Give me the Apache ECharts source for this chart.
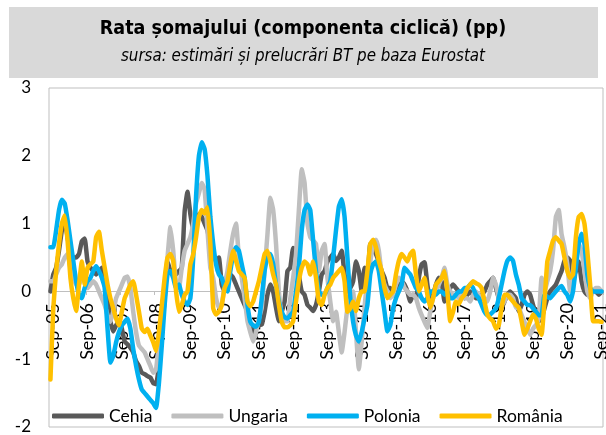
<!DOCTYPE html>
<html>
<head>
<meta charset="utf-8">
<script src="https://cdn.jsdelivr.net/npm/echarts@6/dist/echarts.min.js"></script>
<style>
  html, body { margin: 0; padding: 0; background: #fff; }
  #chart { width: 606px; height: 435px; }
</style>
</head>
<body>
<div id="chart"></div>
<script>
//luni, aug-2005 .. sep-2021
var luni = ['Jan', 'Feb', 'Mar', 'Apr', 'May', 'Jun', 'Jul', 'Aug', 'Sep', 'Oct', 'Nov', 'Dec'];
var categorii = [];
for (var k = 0; k < 194; k++) {
    var m = (7 + k) % 12;
    var an = 2005 + Math.floor((7 + k) / 12);
    categorii.push(luni[m] + '-' + String(an).slice(2));
}

var cehia = [
    0.0, 0.25, 0.35, 0.6, 0.9, 1.05, 0.8, 0.55, 0.5, 0.5, 0.55, 0.74,
    0.78, 0.44, 0.35, 0.3, 0.25, 0.3, 0.35, 0.1, -0.05, -0.44, -0.59, -0.5,
    -0.44, -0.55, -0.74, -0.78, -0.83, -0.9, -1.03, -1.1, -1.2, -1.22, -1.25, -1.27,
    -1.35, -1.37, -1.1, -0.6, -0.1, 0.44, 0.3, 0.25, 0.25, 0.3, 0.35, 1.18,
    1.47, 1.14, 0.9, 1.04, 1.14, 1.1, 1.0, 0.9, 0.7, 0.55, 0.44, 0.5,
    0.1, 0.0, 0.1, 0.25, 0.2, 0.1, 0.0, -0.1, -0.2, -0.3, -0.49, -0.64,
    -0.54, -0.5, -0.49, -0.3, -0.05, 0.1, 0.0, -0.24, -0.44, -0.3, -0.15, 0.3,
    0.35, 0.64, 0.6, 0.25, 0.0, -0.05, -0.2, -0.24, -0.29, -0.2, 0.0, 0.25,
    0.3, 0.44, 0.5, 0.55, 0.45, 0.5, 0.6, 0.25, 0.0, 0.05, 0.15, 0.44,
    0.3, 0.0, 0.35, 0.2, 0.7, 0.65, 0.55, 0.44, 0.3, 0.2, 0.05, 0.05,
    0.0, 0.0, 0.05, 0.15, 0.1, 0.0, -0.15, -0.05, -0.1, 0.2, 0.4, 0.43,
    0.1, -0.15, -0.05, 0.1, 0.2, 0.15, -0.15, -0.05, 0.05, 0.1, 0.05, 0.0,
    -0.05, -0.1, -0.05, 0.0, -0.05, -0.1, -0.1, -0.05, 0.0, 0.1, 0.15, 0.2,
    0.05, -0.1, -0.24, -0.15, -0.05, 0.0, -0.05, -0.1, -0.29, -0.2, -0.05, 0.0,
    -0.05, -0.2, -0.34, -0.44, -0.4, -0.25, -0.1, 0.0, 0.05, 0.1, 0.2, 0.3,
    0.45, 0.5, 0.45, 0.2, 0.3, 0.44, 0.15, 0.0, -0.05, -0.05, 0.0, 0.0,
    -0.05, 0.0
];

var ungaria = [
    0.15, 0.15, 0.25, 0.35, 0.4, 0.5, 0.55, 0.35, 0.2, 0.1, 0.1, 0.2,
    0.15, 0.05, 0.1, 0.15, 0.1, 0.0, -0.1, -0.2, -0.35, -0.45, -0.3, -0.1,
    0.0, 0.1, 0.2, 0.22, 0.05, -0.3, -0.6, -0.8, -0.85, -0.9, -1.0, -1.1,
    -1.2, -1.15, -0.74, -0.3, 0.1, 0.5, 0.95, 0.6, 0.1, 0.05, 0.35, 0.6,
    0.7, 0.8, 1.0, 1.3, 1.45, 1.6, 1.5, 0.9, 0.35, 0.2, -0.1, -0.24,
    -0.2, 0.1, 0.3, 0.6, 0.85, 1.0, 0.5, 0.2, -0.1, -0.44, -0.6, -0.74,
    -0.6, -0.4, -0.24, 0.3, 0.84, 1.38, 1.2, 0.7, 0.0, -0.34, -0.44, -0.44,
    -0.1, 0.2, 0.55, 1.2, 1.8, 1.6, 1.0, 0.8, 0.75, 0.7, 0.3, 0.6,
    0.7, 0.2, -0.15, -0.44, -0.3, -0.6, -0.9, -0.6, -0.25, -0.19, 0.0, -0.6,
    -1.15, -0.74, -0.24, 0.2, 0.44, 0.7, 0.76, 0.6, 0.25, 0.1, 0.0, -0.1,
    -0.05, 0.1, 0.2, 0.15, 0.05, 0.0, -0.05, -0.05, -0.1, -0.24, -0.35, -0.45,
    -0.54, -0.3, -0.1, 0.0, 0.1, 0.2, 0.35, 0.1, 0.0, -0.05, -0.05, -0.1,
    -0.05, -0.1, -0.1, -0.15, -0.05, 0.0, -0.05, -0.1, -0.1, -0.15, 0.0, 0.2,
    0.1, -0.1, -0.2, -0.15, -0.05, -0.05, -0.1, -0.24, -0.24, -0.35, -0.45, -0.55,
    -0.64, -0.55, -0.5, -0.4, 0.2, 0.0, 0.15, 0.3, 0.6, 1.1, 1.2, 0.84,
    0.65, 0.4, 0.0, 0.3, 0.6, 0.7, 0.6, 0.3, 0.0, -0.1, 0.0, 0.05,
    0.05, 0.0
];

var polonia = [
    0.65, 0.65, 0.9, 1.2, 1.35, 1.3, 1.05, 0.75, 0.45, 0.15, -0.05, -0.1,
    0.05, 0.15, 0.2, 0.3, 0.37, 0.3, 0.2, 0.05, -0.55, -1.05, -0.95, -0.75,
    -0.6, -0.5, -0.45, -0.4, -0.55, -0.85, -1.1, -1.3, -1.45, -1.5, -1.55, -1.6,
    -1.65, -1.72, -1.35, -0.8, -0.2, 0.25, 0.3, 0.2, 0.05, 0.1, -0.05, -0.15,
    -0.2, -0.1, 0.5, 1.4, 2.0, 2.2, 2.1, 1.7, 1.1, 0.7, 0.4, 0.25,
    0.2, 0.05, 0.0, 0.3, 0.55, 0.65, 0.6, 0.4, 0.2, -0.2, -0.45, -0.5,
    -0.52, -0.45, -0.1, 0.3, 0.5, 0.55, 0.4, 0.1, -0.15, -0.3, -0.38, -0.4,
    -0.35, -0.3, 0.0, 0.35, 0.9, 1.2, 1.28, 1.2, 0.75, 0.3, 0.0, -0.05,
    -0.05, 0.05, 0.15, 0.5, 0.9, 1.25, 1.36, 1.1, 0.5, -0.1, -0.45, -0.65,
    -0.74, -0.6, -0.4, -0.2, 0.25, 0.4, 0.44, 0.3, 0.0, -0.3, -0.59, -0.5,
    -0.25, -0.1, 0.0, 0.1, 0.35, 0.3, 0.25, 0.15, 0.05, 0.0, -0.1, -0.15,
    -0.1, 0.0, 0.0, -0.05, 0.0, 0.0, -0.05, 0.0, -0.1, -0.1, -0.05, 0.0,
    0.0, 0.05, 0.05, 0.1, 0.05, -0.05, -0.1, -0.2, -0.3, -0.35, -0.34, -0.3,
    -0.25, -0.1, 0.1, 0.3, 0.45, 0.5, 0.45, 0.25, 0.1, -0.1, -0.15, -0.2,
    -0.2, -0.25, -0.3, -0.35, -0.35, -0.05, -0.08, -0.1, -0.05, 0.0, 0.05, 0.08,
    0.0, -0.05, -0.15, 0.0, 0.35, 0.7, 0.85, 0.7, 0.25, 0.05, 0.0, 0.0,
    0.0, 0.0
];

var romania = [
    -1.3, -0.25, 0.3, 0.7, 1.0, 1.12, 0.75, 0.2, -0.1, -0.29, 0.1, 0.44,
    0.1, 0.35, 0.4, 0.44, 0.8, 0.88, 0.6, 0.35, 0.1, -0.1, -0.25, -0.4,
    -0.5, -0.3, -0.1, 0.0, 0.1, 0.15, -0.05, -0.3, -0.55, -0.6, -0.55, -0.65,
    -0.75, -0.88, -0.6, -0.2, 0.2, 0.5, 0.55, 0.45, 0.0, -0.3, -0.2, -0.05,
    0.0, 0.4, 0.55, 0.8, 1.1, 1.2, 1.15, 1.24, 0.7, -0.25, -0.34, -0.3,
    -0.2, 0.05, 0.15, 0.4, 0.6, 0.45, 0.3, 0.25, 0.2, -0.15, -0.22, -0.15,
    0.0, 0.15, 0.35, 0.55, 0.6, 0.45, 0.25, 0.1, -0.2, -0.45, -0.53, -0.53,
    -0.5, -0.44, -0.15, 0.15, 0.35, 0.44, 0.4, 0.25, 0.44, 0.2, -0.15, -0.2,
    -0.05, 0.05, 0.1, 0.2, 0.25, 0.3, 0.35, 0.15, -0.3, -0.25, -0.15, -0.29,
    -0.1, 0.0, 0.0, 0.3, 0.7, 0.76, 0.65, 0.45, 0.3, 0.05, -0.1, -0.05,
    0.0, 0.25, 0.45, 0.55, 0.5, 0.44, 0.55, 0.6, 0.25, 0.0, 0.1, 0.2,
    -0.05, -0.24, -0.1, 0.1, 0.15, 0.2, 0.3, 0.0, -0.44, -0.3, -0.15, -0.19,
    -0.1, -0.05, 0.05, 0.1, 0.15, 0.12, 0.1, 0.05, -0.15, -0.34, -0.4, -0.44,
    -0.55, -0.5, -0.24, -0.05, -0.05, -0.1, -0.15, -0.2, -0.24, -0.44, -0.64, -0.55,
    -0.44, -0.34, -0.4, -0.55, -0.64, -0.15, 0.44, 0.6, 0.75, 0.8, 0.75, 0.7,
    0.5, 0.3, 0.2, 0.25, 0.8, 1.1, 1.14, 1.0, 0.6, 0.1, -0.44, -0.44,
    -0.44, -0.45
];

var numeSerii = ['Cehia', 'Ungaria', 'Polonia', 'România'];
var culori = ['#595959', '#bfbfbf', '#00b0f0', '#ffc000'];
var dateSerii = [cehia, ungaria, polonia, romania];

var chart = echarts.init(document.getElementById('chart'));

var fontTitlu = "'Liberation Sans Narrow', 'DejaVu Sans Condensed', sans-serif";
var fontAxe = "Lato, 'Noto Sans', sans-serif";

var serii = [];
for (var s = 0; s < numeSerii.length; s++) {
    serii.push({
        name: numeSerii[s],
        type: 'line',
        data: dateSerii[s],
        symbol: 'none',
        smooth: 0.12,
        lineStyle: { color: culori[s], width: 4.5, cap: 'round', join: 'round' },
        itemStyle: { color: culori[s] }
    });
}

// axa x sta pe linia lui 0: grila 88..427, domeniu -2..3
var offsetAxaX = -Math.round((427 - 88) * 2 / 5);

var option = {
    animation: false,
    backgroundColor: '#fff',
    graphic: [{
        type: 'rect',
        shape: { x: 9, y: 7, width: 589, height: 71 },
        style: { fill: '#d9d9d9' },
        z: -1
    }],
    title: {
        text: 'Rata șomajului (componenta ciclică) (pp)',
        subtext: 'sursa: estimări și prelucrări BT pe baza Eurostat',
        left: 'center',
        top: 14,
        itemGap: 9,
        textStyle: { fontFamily: fontTitlu, fontWeight: 'bold', fontSize: 19.5, color: '#000' },
        subtextStyle: { fontFamily: fontTitlu, fontStyle: 'italic', fontSize: 16.8, color: '#000' }
    },
    legend: {
        data: numeSerii,
        left: 47,
        top: 402,
        icon: 'roundRect',
        itemWidth: 52,
        itemHeight: 5,
        itemGap: 19,
        textStyle: { fontFamily: fontAxe, fontSize: 17.5, color: '#000' }
    },
    grid: {
        left: 49, right: 3, top: 88, bottom: 8,
        containLabel: false,
        outerBoundsMode: 'none',
        show: true, borderColor: '#bfbfbf', borderWidth: 1
    },
    xAxis: {
        type: 'category',
        data: categorii,
        boundaryGap: true,
        offset: offsetAxaX,
        axisLine: { onZero: false, lineStyle: { color: '#bfbfbf', width: 1 } },
        axisTick: {
            show: true,
            interval: function (i) { return (i - 1) % 12 === 0; },
            length: 4,
            lineStyle: { color: '#bfbfbf' }
        },
        axisLabel: {
            rotate: 90,
            margin: 12,
            interval: function (i) { return (i - 1) % 12 === 0; },
            fontFamily: fontAxe,
            fontSize: 18,
            color: '#000'
        },
        splitLine: { show: false }
    },
    yAxis: {
        type: 'value',
        min: -2,
        max: 3,
        interval: 1,
        axisLine: { show: false },
        axisTick: { show: false },
        splitLine: { show: false },
        axisLabel: { margin: 18, fontFamily: fontAxe, fontSize: 17, color: '#000' }
    },
    series: serii
};

chart.setOption(option);
</script>
</body>
</html>
